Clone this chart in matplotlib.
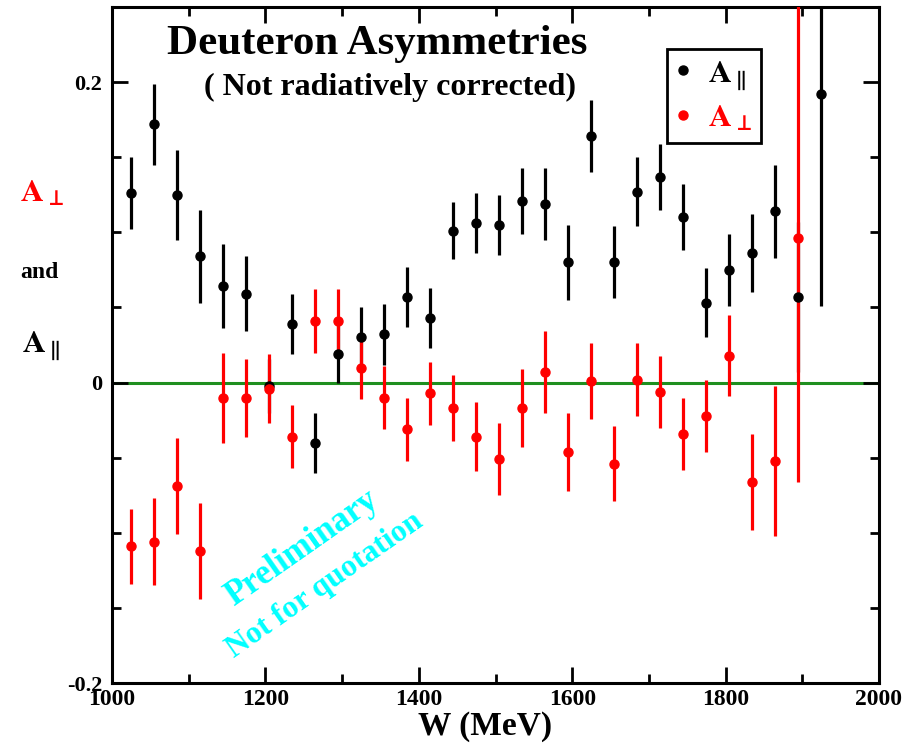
import matplotlib
matplotlib.use("Agg")
import matplotlib.pyplot as plt
from matplotlib.ticker import FixedLocator, MultipleLocator, FixedFormatter

plt.rcParams["font.family"] = "serif"
plt.rcParams["font.serif"] = ["Liberation Serif", "DejaVu Serif"]
plt.rcParams["font.weight"] = "bold"
plt.rcParams["mathtext.fontset"] = "stix"

# Invariant mass W (MeV)
W_par = [1025, 1055, 1085, 1115, 1145, 1175, 1205, 1235, 1265, 1295, 1325,
         1355, 1385, 1415, 1445, 1475, 1505, 1535, 1565, 1595, 1625, 1655,
         1685, 1715, 1745, 1775, 1805, 1835, 1865, 1895, 1925]
A_par = [0.126, 0.172, 0.125, 0.084, 0.064, 0.059, -0.002, 0.039, -0.040,
         0.019, 0.030, 0.032, 0.057, 0.043, 0.101, 0.106, 0.105, 0.121,
         0.119, 0.080, 0.164, 0.080, 0.127, 0.137, 0.110, 0.053, 0.075,
         0.086, 0.114, 0.057, 0.192]
dA_par = [0.024, 0.027, 0.030, 0.031, 0.028, 0.025, 0.018, 0.020, 0.020,
          0.019, 0.020, 0.020, 0.020, 0.020, 0.019, 0.020, 0.020, 0.022,
          0.024, 0.025, 0.024, 0.024, 0.023, 0.022, 0.022, 0.023, 0.024,
          0.026, 0.031, 0.050, 0.141]

W_perp = [1025, 1055, 1085, 1115, 1145, 1175, 1205, 1235, 1265, 1295, 1325,
          1355, 1385, 1415, 1445, 1475, 1505, 1535, 1565, 1595, 1625, 1655,
          1685, 1715, 1745, 1775, 1805, 1835, 1865, 1895]
A_perp = [-0.109, -0.106, -0.069, -0.112, -0.010, -0.010, -0.004, -0.036,
          0.041, 0.041, 0.010, -0.010, -0.031, -0.007, -0.017, -0.036,
          -0.051, -0.017, 0.007, -0.046, 0.001, -0.054, 0.002, -0.006,
          -0.034, -0.022, 0.018, -0.066, -0.052, 0.096]
dA_perp = [0.025, 0.029, 0.032, 0.032, 0.030, 0.026, 0.023, 0.021, 0.021,
           0.021, 0.021, 0.021, 0.021, 0.021, 0.022, 0.023, 0.024, 0.026,
           0.027, 0.026, 0.025, 0.025, 0.024, 0.024, 0.024, 0.024, 0.027,
           0.032, 0.050, 0.162]

x_major = [1000, 1200, 1400, 1600, 1800, 2000]
x_labels = ["1000", "1200", "1400", "1600", "1800", "2000"]
y_major = [-0.2, 0.0, 0.2]
y_labels = ["-0.2", "0", "0.2"]

LBL_PAR = r"$\mathbf{A}_{\parallel}$"
LBL_PERP = r"$\mathbf{A}_{\bot}$"

W, H = 917, 749
fig = plt.figure(figsize=(W / 100, H / 100), dpi=100)
ax = fig.add_axes([112 / W, 1 - 683 / H, (879 - 112) / W, (683 - 7) / H])
ax.set_axisbelow(False)

ax.set_xlim(1000, 2000)
ax.set_ylim(-0.2, 0.25)

# zero line
ax.axhline(0, color="#1f8f1f", lw=2.2, zorder=2)

# error bars first, then markers so the red dots sit on top
ax.errorbar(W_par, A_par, yerr=dA_par, fmt="none", ecolor="black",
            elinewidth=2.3, capsize=0, zorder=3)
ax.errorbar(W_perp, A_perp, yerr=dA_perp, fmt="none", ecolor="red",
            elinewidth=2.3, capsize=0, zorder=4)
h_par, = ax.plot(W_par, A_par, "o", color="black", ms=6.5, zorder=5,
                 label=LBL_PAR)
h_perp, = ax.plot(W_perp, A_perp, "o", color="red", ms=6.5, zorder=6,
                  label=LBL_PERP)

# axes styling
for s in ax.spines.values():
    s.set_linewidth(2.2)
ax.xaxis.set_major_locator(FixedLocator(x_major))
ax.xaxis.set_major_formatter(FixedFormatter(x_labels))
ax.xaxis.set_minor_locator(MultipleLocator(100))
ax.yaxis.set_major_locator(FixedLocator(y_major))
ax.yaxis.set_major_formatter(FixedFormatter(y_labels))
ax.yaxis.set_minor_locator(MultipleLocator(0.05))
ax.tick_params(which="both", direction="in", top=True, right=True, width=2)
ax.tick_params(which="major", length=11.5)
ax.tick_params(which="minor", length=6.5)
ax.tick_params(axis="x", which="major", labelsize=17, pad=4)
ax.tick_params(axis="y", which="major", labelsize=16, pad=7)
for lab in ax.get_xticklabels() + ax.get_yticklabels():
    lab.set_fontweight("bold")

# legend
leg = ax.legend(handles=[h_par, h_perp], loc="upper left",
                bbox_to_anchor=(667 / W, 1 - 49 / H),
                bbox_transform=fig.transFigure, borderaxespad=0,
                prop={"size": 23, "weight": "normal"},
                handlelength=0.42, handletextpad=0.55,
                borderpad=0.3, labelspacing=0.38, fancybox=False,
                framealpha=1, edgecolor="black", markerscale=1.0)
leg.get_frame().set_linewidth(2)
leg.get_texts()[1].set_color("red")

# titles
fig.text(377 / W, 1 - 44 / H, "Deuteron Asymmetries", ha="center",
         va="center", fontsize=31, fontweight="bold")
fig.text(390 / W, 1 - 87 / H, "( Not radiatively corrected)", ha="center",
         va="center", fontsize=23, fontweight="bold")

# axis titles
fig.text(485 / W, 1 - 727 / H, "W (MeV)", ha="center", va="center",
         fontsize=24, fontweight="bold")
fig.text(42 / W, 1 - 194 / H, LBL_PERP, ha="center", va="center",
         fontsize=23, fontweight="normal", color="red")
fig.text(39 / W, 1 - 272 / H, "and", ha="center", va="center",
         fontsize=17, fontweight="bold")
fig.text(41 / W, 1 - 346 / H, LBL_PAR, ha="center", va="center",
         fontsize=23, fontweight="normal", color="black")

# watermark
fig.text(302 / W, 1 - 548 / H, "Preliminary", ha="center", va="center",
         rotation=35, rotation_mode="anchor", fontsize=25,
         fontweight="bold", color="cyan")
fig.text(325 / W, 1 - 585 / H, "Not for quotation", ha="center",
         va="center", rotation=35, rotation_mode="anchor", fontsize=22.5,
         fontweight="bold", color="cyan")

fig.savefig("out.png", dpi=100)
